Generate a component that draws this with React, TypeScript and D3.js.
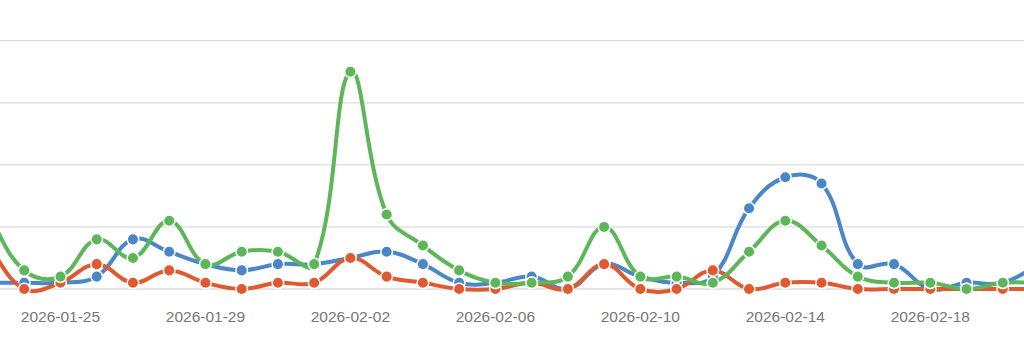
import React, { useRef, useEffect } from 'react';
import * as d3 from 'd3';

// one point per day, 2026-01-23 .. 2026-02-21 (first and last fall just outside the frame)
const dates = [
  '2026-01-23', '2026-01-24', '2026-01-25', '2026-01-26', '2026-01-27', '2026-01-28',
  '2026-01-29', '2026-01-30', '2026-01-31', '2026-02-01', '2026-02-02', '2026-02-03',
  '2026-02-04', '2026-02-05', '2026-02-06', '2026-02-07', '2026-02-08', '2026-02-09',
  '2026-02-10', '2026-02-11', '2026-02-12', '2026-02-13', '2026-02-14', '2026-02-15',
  '2026-02-16', '2026-02-17', '2026-02-18', '2026-02-19', '2026-02-20', '2026-02-21',
];

const blueValues = [1, 1, 1, 2, 8, 6, 4, 3, 4, 4, 5, 6, 4, 1, 1, 2, 0, 4, 2, 1, 2, 13, 18, 17, 4, 4, 0, 1, 1, 4];
const redValues = [7, 0, 1, 4, 1, 3, 1, 0, 1, 1, 5, 2, 1, 0, 0, 1, 0, 4, 0, 0, 3, 0, 1, 1, 0, 0, 0, 0, 0, 0];
const greenValues = [12, 3, 2, 8, 5, 11, 4, 6, 6, 4, 35, 12, 7, 3, 1, 1, 2, 10, 2, 2, 1, 6, 11, 7, 2, 1, 1, 0, 1, 1];

const tickLabels = ['2026-01-25', '2026-01-29', '2026-02-02', '2026-02-06', '2026-02-10', '2026-02-14', '2026-02-18'];
const gridValues = [0, 10, 20, 30, 40];

const series = [
  { name: 'blue', values: blueValues, color: '#4a87c8' },
  { name: 'red', values: redValues, color: '#df5a30' },
  { name: 'green', values: greenValues, color: '#5db75a' },
];

const W = 1024;
const H = 352;
const TENSION = 0.4;

// spline like chart.js: control points scaled by neighbour distances
function splinePath(pts: [number, number][], t: number) {
  const cps = pts.map((cur, i) => {
    const prev = pts[Math.max(i - 1, 0)];
    const next = pts[Math.min(i + 1, pts.length - 1)];
    const d01 = Math.hypot(cur[0] - prev[0], cur[1] - prev[1]);
    const d12 = Math.hypot(next[0] - cur[0], next[1] - cur[1]);
    const sum = d01 + d12 || 1;
    const fa = (t * d01) / sum;
    const fb = (t * d12) / sum;
    const dx = next[0] - prev[0];
    const dy = next[1] - prev[1];
    return {
      prev: [cur[0] - fa * dx, cur[1] - fa * dy],
      next: [cur[0] + fb * dx, cur[1] + fb * dy],
    };
  });
  const p = d3.path();
  p.moveTo(pts[0][0], pts[0][1]);
  for (let i = 1; i < pts.length; i++) {
    const a = cps[i - 1].next;
    const b = cps[i].prev;
    p.bezierCurveTo(a[0], a[1], b[0], b[1], pts[i][0], pts[i][1]);
  }
  return p.toString();
}

const App: React.FC = () => {
  const svgRef = useRef<SVGSVGElement | null>(null);

  useEffect(() => {
    const svg = d3.select(svgRef.current);
    svg.selectAll('*').remove();

    const x = d3.scalePoint<string>()
      .domain(dates)
      .range([-12, 1039]);

    const y = d3.scaleLinear()
      .domain([0, 40])
      .range([289, 40.7]);

    // grid
    svg.append('g')
      .selectAll('line')
      .data(gridValues)
      .join('line')
      .attr('x1', 0)
      .attr('x2', W)
      .attr('y1', d => y(d))
      .attr('y2', d => y(d))
      .attr('stroke', '#dcdcdc')
      .attr('stroke-width', 1.3);

    // x labels
    svg.append('g')
      .selectAll('text')
      .data(tickLabels)
      .join('text')
      .attr('x', d => x(d)!)
      .attr('y', 321.5)
      .attr('text-anchor', 'middle')
      .attr('font-family', '"Liberation Sans", Arial, Helvetica, sans-serif')
      .attr('font-size', 15.5)
      .attr('fill', '#777')
      .text(d => d);

    series.forEach(s => {
      const pts = s.values.map((v, i) => [x(dates[i])!, y(v)] as [number, number]);
      const g = svg.append('g');
      g.append('path')
        .attr('d', splinePath(pts, TENSION))
        .attr('fill', 'none')
        .attr('stroke', s.color)
        .attr('stroke-width', 4)
        .attr('stroke-linejoin', 'round');
      g.selectAll('circle')
        .data(s.values)
        .join('circle')
        .attr('cx', (_, i) => x(dates[i])!)
        .attr('cy', d => y(d))
        .attr('r', 5.8)
        .attr('fill', s.color)
        .attr('stroke', '#fff')
        .attr('stroke-width', 1.5);
    });
  }, []);

  return (
    <svg
      ref={svgRef}
      width={W}
      height={H}
      style={{ position: 'absolute', left: 0, top: 0, background: '#fff' }}
    />
  );
};

export default App;
